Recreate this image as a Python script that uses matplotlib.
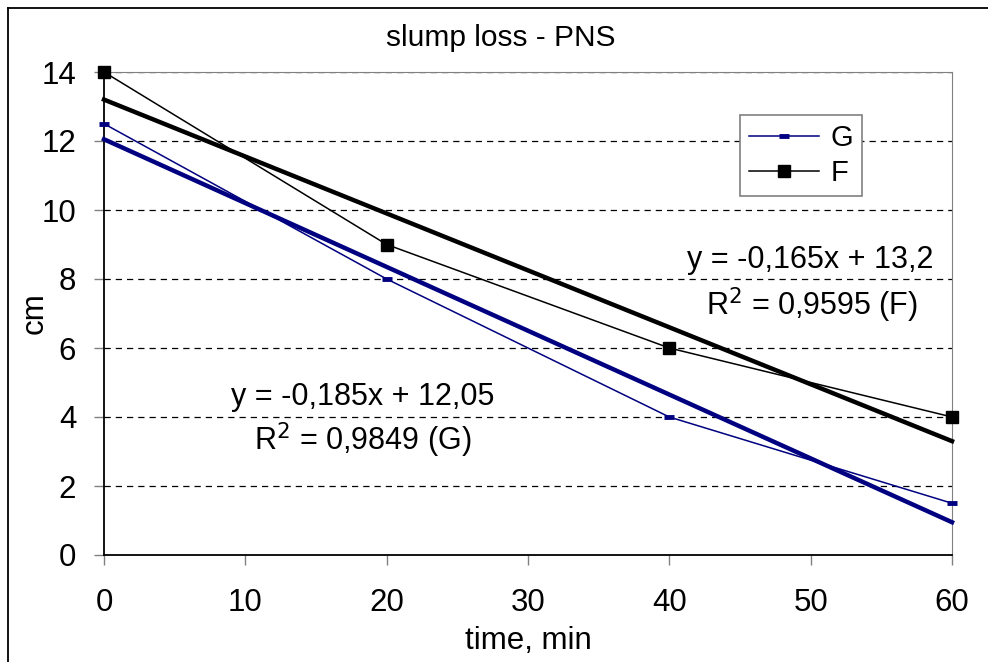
import matplotlib
matplotlib.use("Agg")
import matplotlib.pyplot as plt
from matplotlib.lines import Line2D
import numpy as np

plt.rcParams['font.family'] = ['Liberation Sans', 'DejaVu Sans']

time_min = [0, 20, 40, 60]
slump_G = [12.5, 8.0, 4.0, 1.5]
slump_F = [14.0, 9.0, 6.0, 4.0]
trend_G = (-0.185, 12.05)
trend_F = (-0.165, 13.2)
eq_G = ["y = -0,185x + 12,05", "R$^2$ = 0,9849 (G)"]
eq_F = ["y = -0,165x + 13,2", "R$^2$ = 0,9595 (F)"]
x_ticks = [0, 10, 20, 30, 40, 50, 60]
y_ticks = [0, 2, 4, 6, 8, 10, 12, 14]

W, H = 988, 662
fig = plt.figure(figsize=(W / 100, H / 100), dpi=100)
fig.patch.set_linewidth(0)
ax = fig.add_axes([104 / W, 1 - 555 / H, (952 - 104) / W, (555 - 72) / H])

# outer chart border (only left and top edges visible)
bx, by = 8 / W, 1 - 8 / H
fig.lines.append(Line2D([bx, bx], [0.0, by], transform=fig.transFigure, color='black', lw=1.3,
                        solid_capstyle='projecting'))
fig.lines.append(Line2D([bx, 1.0], [by, by], transform=fig.transFigure, color='black', lw=1.3,
                        solid_capstyle='projecting'))

navy = '#000080'
ax.set_xlim(0, 60)
ax.set_ylim(0, 14)
ax.set_xticks(x_ticks)
ax.set_yticks(y_ticks)

for yv in y_ticks[1:]:
    ax.axhline(yv, color='black', lw=0.9, dashes=(5, 4), zorder=1)

xs = np.array([0, 60])
ax.plot(xs, trend_G[0] * xs + trend_G[1], color=navy, lw=3.2, zorder=3, clip_on=False)
ax.plot(xs, trend_F[0] * xs + trend_F[1], color='black', lw=3.2, zorder=3, clip_on=False)

ax.plot(time_min, slump_G, color=navy, lw=1.1, marker='_', ms=7, mew=3.5, label='G',
        zorder=4, clip_on=False)
ax.plot(time_min, slump_F, color='black', lw=1.1, marker='s', ms=8.5, label='F',
        zorder=5, clip_on=False)

for s in ['top', 'right']:
    ax.spines[s].set_color('#808080')
for s in ['left', 'bottom']:
    ax.spines[s].set_color('black')
    ax.spines[s].set_linewidth(1.3)

ax.tick_params(axis='y', direction='out', length=7, width=1, color='#808080', pad=13,
               labelsize=22.5)
ax.tick_params(axis='x', direction='out', length=7, width=1, color='#808080', pad=17,
               labelsize=22.5)

ax.set_xlabel('time, min', fontsize=22.5)
ax.set_ylabel('cm', fontsize=22.5)
ax.xaxis.set_label_coords(0.5, -(641 - 555) / 483)
ax.yaxis.set_label_coords(-(104 - 35) / 848, 0.5)
ax.xaxis.label.set_va('center')
ax.yaxis.label.set_va('center')

fig.text(501 / W, 1 - 38 / H, 'slump loss - PNS', ha='center', va='center', fontsize=21.5)

def dx(px):
    return (px - 104) / 848 * 60

def dy(py):
    return (555 - py) / 483 * 14

ax.text(dx(810), dy(260), eq_F[0], ha='center', va='center', fontsize=22, zorder=6)
ax.text(dx(812), dy(305), eq_F[1], ha='center', va='center', fontsize=22, zorder=6)
ax.text(dx(363), dy(397), eq_G[0], ha='center', va='center', fontsize=22, zorder=6)
ax.text(dx(363), dy(440), eq_G[1], ha='center', va='center', fontsize=22, zorder=6)

leg = ax.legend(loc='upper right', bbox_to_anchor=((862 - 104) / 848, (555 - 115) / 483),
                fontsize=21, frameon=True, fancybox=False, framealpha=1,
                edgecolor='#808080', borderpad=0.3, labelspacing=0.25,
                handlelength=2.4, handletextpad=0.4, borderaxespad=0)
leg.get_frame().set_linewidth(1.2)
leg.set_zorder(10)

fig.savefig('out.png', dpi=100)
